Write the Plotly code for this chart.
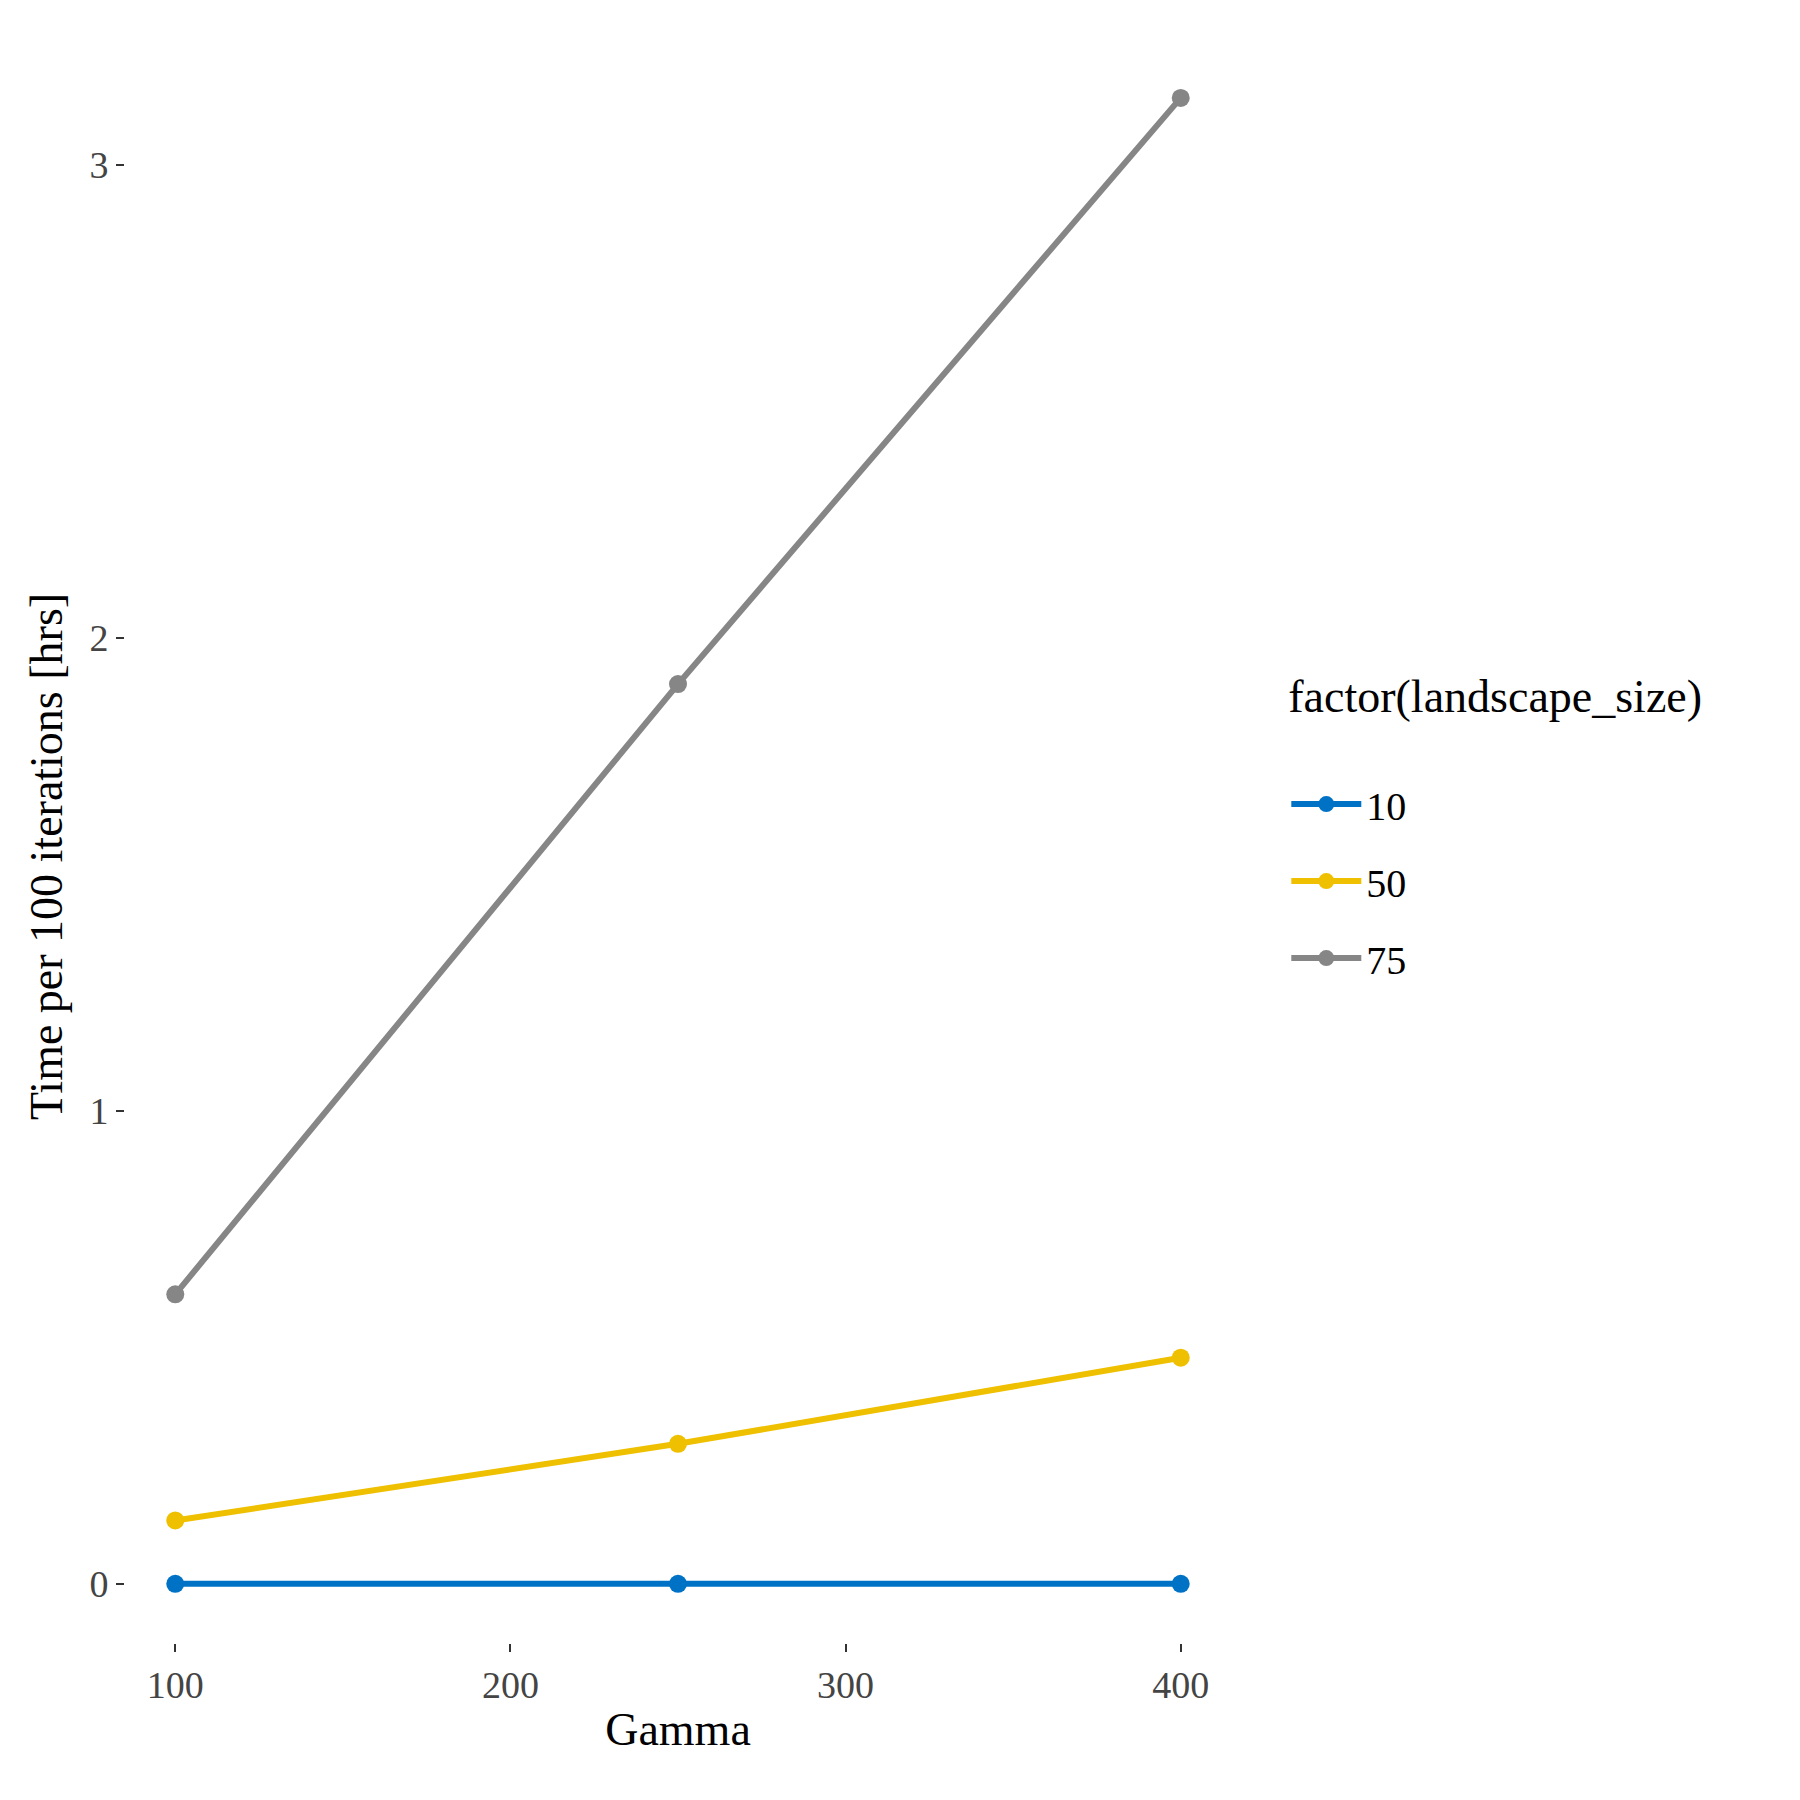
import plotly.graph_objects as go

gamma = [100, 250, 400]
sizes = ["10", "50", "75"]
t10 = [0.0, 0.0, 0.0]
t50 = [0.134, 0.296, 0.478]
t75 = [0.612, 1.902, 3.141]
colors = ["#0072C6", "#EFC000", "#868686"]

fig = go.Figure()
for name, ys, c in zip(sizes, [t10, t50, t75], colors):
    fig.add_trace(go.Scatter(x=gamma, y=ys, name=name, legendgroup=name, mode="lines+markers",
                             line=dict(color=c, width=6), marker=dict(color=c, size=18)))

font = "Liberation Serif, Times New Roman, serif"
fig.update_layout(
    width=1800, height=1800, plot_bgcolor="white", paper_bgcolor="white",
    margin=dict(l=117, r=577, t=62, b=165),
    font=dict(family=font, color="black"),
    legend=dict(title=dict(text="factor(landscape_size)<br> ", font=dict(size=46)),
                font=dict(size=40), x=1.05, y=0.63, xanchor="left", yanchor="top",
                itemwidth=70, tracegroupgap=22, traceorder="grouped"),
    xaxis=dict(range=[85, 415], tickvals=[100, 200, 300, 400], showgrid=False, zeroline=False,
               ticks="outside", ticklen=8, tickwidth=2, tickcolor="#333",
               tickfont=dict(size=38, color="#444"),
               title=dict(text="Gamma", font=dict(size=46), standoff=8)),
    yaxis=dict(range=[-0.125, 3.2], tickvals=[0, 1, 2, 3], showgrid=False, zeroline=False,
               ticks="outside", ticklen=8, tickwidth=2, tickcolor="#333",
               tickfont=dict(size=38, color="#444"),
               title=dict(text="Time per 100 iterations [hrs]", font=dict(size=46), standoff=12)),
)
fig.write_html("out.html")
